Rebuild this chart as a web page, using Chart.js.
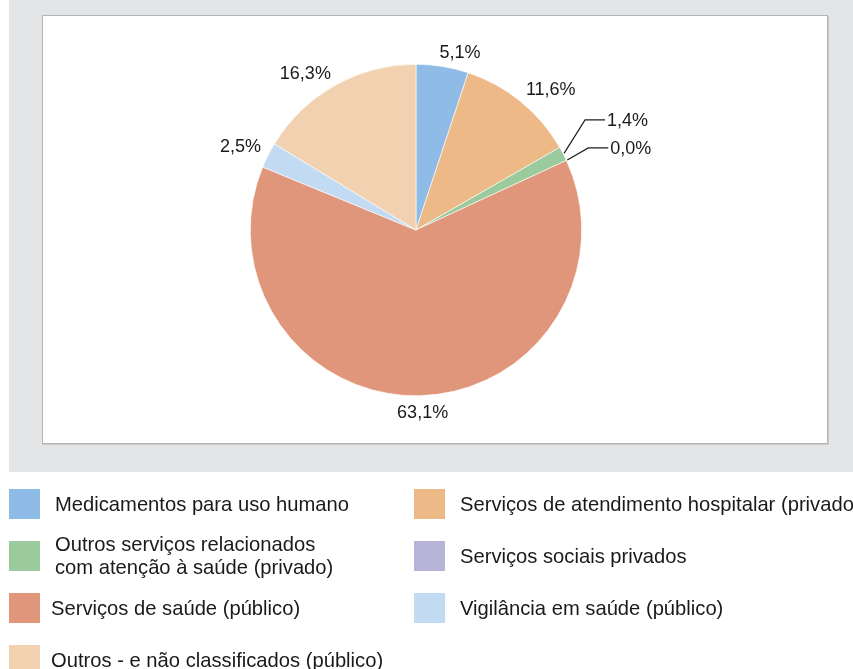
<!DOCTYPE html>
<html>
<head>
<meta charset="utf-8">
<script src="https://cdn.jsdelivr.net/npm/chart.js@4.4.1/dist/chart.umd.min.js"></script>
<style>
  html, body { margin: 0; padding: 0; background: #ffffff; }
  body { width: 853px; height: 669px; overflow: hidden; position: relative; font-family: "Liberation Sans", Arial, sans-serif; }
  #panel { position: absolute; left: 9px; top: 0; width: 844px; height: 472px; background: #e4e5e7; }
  #box { position: absolute; left: 42px; top: 15px; width: 786px; height: 429px; box-sizing: border-box;
         background: #ffffff; border: 1px solid #b4b4b4; box-shadow: 1px 1px 0 #c9c9c9; }
  #wrap { position: absolute; left: 43px; top: 16px; width: 784px; height: 427px; }
  #legend { position: absolute; left: 0; top: 0; width: 853px; height: 669px; pointer-events: none; }
  .item { position: absolute; display: flex; align-items: center; white-space: nowrap; }
  .sw { width: 31px; height: 30px; flex: none; }
  .tx { font-size: 20.2px; line-height: 23px; color: #1a1a1a; }
</style>
</head>
<body>
<div id="panel"></div>
<div id="box"></div>
<div id="wrap"><canvas id="c" width="784" height="427"></canvas></div>
<div id="legend"></div>
<script>
// ---- data ----
const categories = [
  'Medicamentos para uso humano',
  'Serviços de atendimento hospitalar (privado)',
  ['Outros serviços relacionados', 'com atenção à saúde (privado)'],
  'Serviços sociais privados',
  'Serviços de saúde (público)',
  'Vigilância em saúde (público)',
  'Outros - e não classificados (público)'
];
const shares = [5.1, 11.6, 1.4, 0.0, 63.1, 2.5, 16.3];
const sliceColors = ['#8fbce6', '#ecb987', '#9bcb9d', '#b8b4d8', '#e0967a', '#c3dbf2', '#f1d1af'];

// ---- legend (HTML, 2 columns, row-major) ----
const legend = document.getElementById('legend');
categories.forEach((cat, i) => {
  const col = i % 2, row = Math.floor(i / 2);
  const item = document.createElement('div');
  item.className = 'item';
  item.style.left = (col === 0 ? 9 : 414) + 'px';
  item.style.top = (489 + row * 52) + 'px';
  item.style.height = '30px';
  const sw = document.createElement('div');
  sw.className = 'sw';
  sw.style.background = sliceColors[i];
  const tx = document.createElement('div');
  tx.className = 'tx';
  tx.style.marginLeft = (col === 0 && row >= 2 ? 11 : 15) + 'px';
  tx.innerHTML = (Array.isArray(cat) ? cat : [cat]).join('<br>');
  item.appendChild(sw);
  item.appendChild(tx);
  legend.appendChild(item);
});

// ---- value labels plugin ----
const fmt = v => v.toFixed(1).replace('.', ',') + '%';
const clamp = v => Math.max(-1, Math.min(1, v));
const labelPlugin = {
  id: 'valueLabels',
  afterDatasetsDraw(chart) {
    const ctx = chart.ctx;
    const meta = chart.getDatasetMeta(0);
    const data = chart.data.datasets[0].data;
    ctx.save();
    ctx.font = '18px "Liberation Sans", Arial, sans-serif';
    ctx.fillStyle = '#1a1a1a';
    ctx.strokeStyle = '#1f1f1f';
    ctx.lineWidth = 1.2;
    ctx.textBaseline = 'middle';
    const small = [];
    meta.data.forEach((el, i) => {
      const p = el.getProps(['x', 'y', 'startAngle', 'endAngle', 'outerRadius'], true);
      const mid = (p.startAngle + p.endAngle) / 2;
      const dx = Math.cos(mid), dy = Math.sin(mid);
      const txt = fmt(data[i]);
      if (data[i] < 2) {
        small.push({ i, p, dx, dy, txt });
        return;
      }
      const w = ctx.measureText(txt).width, hh = 7;
      const d = p.outerRadius + 8;
      const ax = p.x + d * dx, ay = p.y + d * dy;
      const cx = ax + clamp(dx * 5) * w / 2;
      const cy = ay + clamp(dy * 7) * hh + 2;
      ctx.textAlign = 'center';
      ctx.fillText(txt, cx, cy);
    });
    if (small.length) {
      const starts = small.map(s => ({
        x: s.p.x + (s.p.outerRadius + 1) * s.dx,
        y: s.p.y + (s.p.outerRadius + 1) * s.dy
      }));
      const baseY = starts[starts.length - 1].y - 12;
      small.forEach((s, k) => {
        const st = starts[k];
        const ey = baseY - 28 * (small.length - 1 - k);
        const ex = st.x + 21;
        const hx = ex + 20;
        ctx.beginPath();
        ctx.moveTo(st.x, st.y);
        ctx.lineTo(ex, ey);
        ctx.lineTo(hx, ey);
        ctx.stroke();
        ctx.textAlign = 'left';
        ctx.fillText(s.txt, hx + 2, ey + 1);
      });
    }
    ctx.restore();
  }
};

new Chart(document.getElementById('c'), {
  type: 'pie',
  data: {
    labels: categories,
    datasets: [{
      data: shares,
      backgroundColor: sliceColors,
      borderColor: '#ffffff',
      borderWidth: 0.6
    }]
  },
  options: {
    responsive: false,
    animation: false,
    layout: { padding: { left: 207, right: 245, top: 48, bottom: 47 } },
    plugins: { legend: { display: false }, tooltip: { enabled: false } }
  },
  plugins: [labelPlugin]
});
</script>
</body>
</html>
